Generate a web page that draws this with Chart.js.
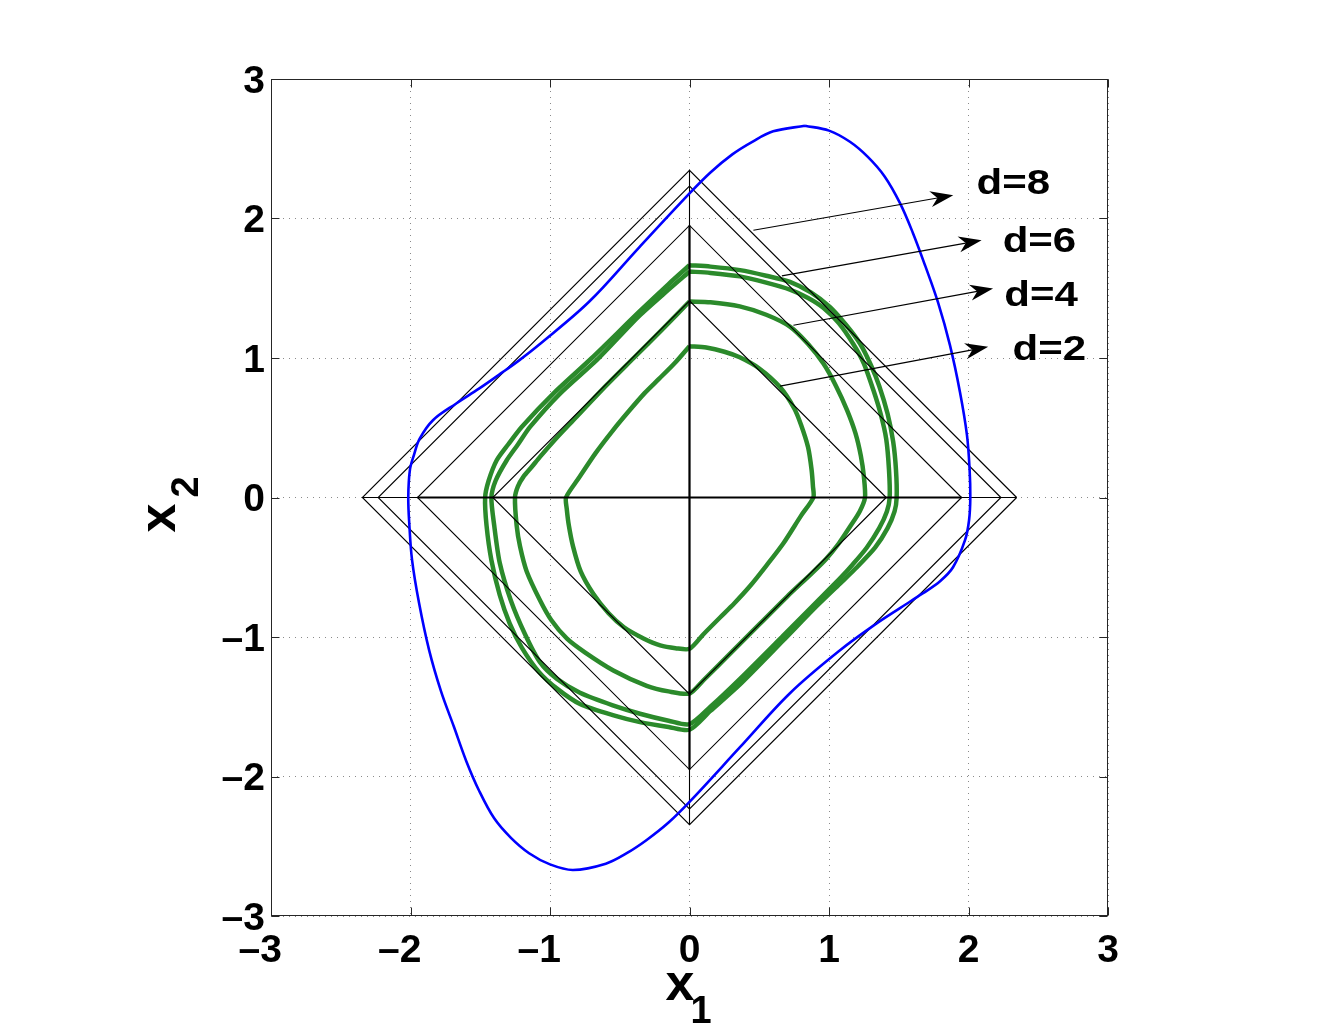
<!DOCTYPE html>
<html lang="en">
<head>
  <meta charset="UTF-8" />
  <title>Phase plane x1 - x2</title>
  <script src="https://cdn.jsdelivr.net/npm/chart.js"></script>
  <style>
    * { margin: 0; padding: 0; box-sizing: border-box; }
    body { background: #fff; width: 1334px; height: 1036px; overflow: hidden; }
    canvas { display: block; }
  </style>
</head>
<body>
  <canvas id="phaseChart" width="1334" height="1036"></canvas>

  <script>
    // axis ticks
    const tickValues = [-3, -2, -1, 0, 1, 2, 3];
    const tickLabels = ['\u20133', '\u20132', '\u20131', '0', '1', '2', '3'];

    // blue closed trajectory
    const blueCycle = [
      [0.828, 2.665], [1.0, 2.63], [1.15, 2.55], [1.28, 2.44], [1.4, 2.3], [1.509, 2.11], [1.6, 1.9],
      [1.69, 1.66], [1.781, 1.4], [1.867, 1.092], [1.939, 0.755], [1.989, 0.447], [2.008, 0.2],
      [2.013, 0], [2.004, -0.163], [1.975, -0.306], [1.889, -0.5], [1.796, -0.6], [1.674, -0.686],
      [1.509, -0.793], [1.344, -0.901], [1.079, -1.095], [0.72, -1.403], [0.362, -1.79], [0, -2.182],
      [-0.15, -2.33], [-0.307, -2.455], [-0.45, -2.55], [-0.6, -2.625], [-0.835, -2.67],
      [-1.0, -2.63], [-1.15, -2.55], [-1.28, -2.44], [-1.4, -2.3], [-1.509, -2.1], [-1.6, -1.89],
      [-1.69, -1.64], [-1.781, -1.39], [-1.867, -1.092], [-1.939, -0.755], [-1.989, -0.447],
      [-2.008, -0.2], [-2.016, 0], [-2.004, 0.2], [-1.975, 0.306], [-1.935, 0.42], [-1.839, 0.554],
      [-1.672, 0.674], [-1.509, 0.78], [-1.344, 0.895], [-1.219, 0.985], [-1.079, 1.095],
      [-0.72, 1.403], [-0.362, 1.792], [0, 2.18], [0.15, 2.33], [0.307, 2.46], [0.45, 2.55],
      [0.6, 2.625], [0.828, 2.665]
    ];

    // green closed curves, inner to outer
    const greenCurve1 = [
      [0, 1.085], [0.12, 1.075], [0.25, 1.045], [0.36, 1.005], [0.5, 0.925], [0.65, 0.79],
      [0.75, 0.64], [0.8, 0.52], [0.85, 0.36], [0.875, 0.2], [0.885, 0.08], [0.888, 0],
      [0.8, -0.13], [0.672, -0.33], [0.55, -0.49], [0.434, -0.635], [0.32, -0.76], [0.219, -0.86],
      [0.1, -0.98], [0, -1.085],
      [-0.1, -1.08], [-0.21, -1.06], [-0.33, -1.01], [-0.47, -0.93], [-0.58, -0.83], [-0.69, -0.69],
      [-0.78, -0.53], [-0.835, -0.35], [-0.865, -0.2], [-0.88, -0.08], [-0.885, 0],
      [-0.8, 0.13], [-0.672, 0.32], [-0.55, 0.48], [-0.434, 0.62], [-0.32, 0.75], [-0.219, 0.85],
      [-0.1, 0.97], [0, 1.085]
    ];
    const greenCurve2 = [
      [0, 1.405], [0.15, 1.4], [0.36, 1.37], [0.55, 1.31], [0.72, 1.225], [0.85, 1.1], [0.96, 0.96],
      [1.05, 0.8], [1.13, 0.625], [1.19, 0.46], [1.228, 0.3], [1.25, 0.15], [1.258, 0],
      [1.22, -0.1], [1.15, -0.21], [1.07, -0.33], [0.98, -0.44], [0.88, -0.54], [0.7, -0.71],
      [0.5, -0.91], [0.3, -1.11], [0.1, -1.31], [0, -1.405],
      [-0.15, -1.39], [-0.307, -1.35], [-0.546, -1.24], [-0.75, -1.11], [-0.88, -1.01], [-0.99, -0.88],
      [-1.07, -0.74], [-1.167, -0.53], [-1.215, -0.35], [-1.239, -0.2], [-1.251, 0],
      [-1.23, 0.08], [-1.191, 0.148], [-1.13, 0.22], [-1.072, 0.291], [-0.95, 0.43], [-0.833, 0.554],
      [-0.6, 0.8], [-0.4, 1.0], [-0.2, 1.2], [0, 1.405]
    ];
    const greenCurve3 = [
      [0, 1.62], [0.15, 1.61], [0.362, 1.585], [0.55, 1.54], [0.72, 1.49], [0.85, 1.43], [0.959, 1.36],
      [1.07, 1.25], [1.174, 1.1], [1.25, 0.96], [1.318, 0.77], [1.37, 0.6], [1.41, 0.42], [1.43, 0.2],
      [1.435, 0],
      [1.415, -0.1], [1.36, -0.22], [1.27, -0.36], [1.17, -0.48], [1.079, -0.58], [0.9, -0.76],
      [0.672, -0.99], [0.362, -1.3], [0.15, -1.5], [0, -1.625],
      [-0.15, -1.6], [-0.355, -1.55], [-0.55, -1.49], [-0.785, -1.4], [-0.95, -1.3], [-1.072, -1.18],
      [-1.179, -0.98], [-1.28, -0.74], [-1.36, -0.47], [-1.4, -0.2], [-1.42, 0],
      [-1.39, 0.12], [-1.31, 0.267], [-1.23, 0.38], [-1.143, 0.506], [-0.928, 0.745], [-0.66, 0.99],
      [-0.362, 1.3], [-0.15, 1.49], [0, 1.62]
    ];
    const greenCurve4 = [
      [0, 1.665], [0.15, 1.655], [0.362, 1.63], [0.55, 1.59], [0.72, 1.546], [0.87, 1.47], [1.006, 1.366],
      [1.12, 1.24], [1.222, 1.104], [1.3, 0.95], [1.36, 0.8], [1.42, 0.6], [1.46, 0.4], [1.48, 0.2],
      [1.485, 0],
      [1.47, -0.1], [1.42, -0.22], [1.33, -0.36], [1.2, -0.5], [1.079, -0.617], [0.9, -0.79],
      [0.672, -1.025], [0.362, -1.34], [0.15, -1.53], [0, -1.665],
      [-0.15, -1.645], [-0.355, -1.61], [-0.55, -1.56], [-0.785, -1.48], [-0.95, -1.37], [-1.08, -1.25],
      [-1.2, -1.08], [-1.29, -0.9], [-1.36, -0.7], [-1.42, -0.45], [-1.455, -0.2], [-1.465, 0],
      [-1.44, 0.12], [-1.382, 0.267], [-1.3, 0.38], [-1.203, 0.506], [-0.976, 0.745], [-0.7, 1.0],
      [-0.362, 1.33], [-0.15, 1.53], [0, 1.665]
    ];

    // black diamonds |x1| + |x2| = r
    const diamond1 = [[2.345, 0], [0, 2.345], [-2.345, 0], [0, -2.345], [2.345, 0]];
    const diamond2 = [[2.232, 0], [0, 2.232], [-2.232, 0], [0, -2.232], [2.232, 0]];
    const diamond3 = [[1.95, 0], [0, 1.95], [-1.95, 0], [0, -1.95], [1.95, 0]];
    const diamond4 = [[1.41, 0], [0, 1.41], [-1.41, 0], [0, -1.41], [1.41, 0]];

    // cross through the origin
    const crossThinH = [[-2.345, 0], [2.345, 0]];
    const crossThinV = [[0, -2.345], [0, 2.345]];
    const crossThickH = [[-1.95, 0], [1.95, 0]];
    const crossThickV = [[0, -1.95], [0, 1.95]];

    // annotations
    const arrowText = ['d=8', 'd=6', 'd=4', 'd=2'];
    const arrowFrom = [[0.458, 1.916], [0.662, 1.589], [0.745, 1.235], [0.649, 0.798]];
    const arrowTo = [[1.891, 2.167], [2.094, 1.844], [2.176, 1.498], [2.141, 1.08]];
    const textAt = [[2.058, 2.246], [2.245, 1.832], [2.257, 1.443], [2.316, 1.056]];

    const toXY = pts => pts.map(p => ({ x: p[0], y: p[1] }));

    function line(pts, color, width, order, tension) {
      return {
        data: toXY(pts), showLine: true, pointRadius: 0, borderColor: color,
        borderWidth: width, fill: false, order: order, tension: tension || 0
      };
    }

    const green = '#2b8a2b';
    const datasets = [
      line(blueCycle, '#0000ff', 2.6, 0, 0.35),
      line(diamond1, '#000', 1.1, 1),
      line(diamond2, '#000', 1.1, 1),
      line(diamond3, '#000', 1.1, 1),
      line(diamond4, '#000', 1.1, 1),
      line(crossThinH, '#000', 1.1, 1),
      line(crossThinV, '#000', 1.1, 1),
      line(crossThickH, '#000', 2.2, 1),
      line(crossThickV, '#000', 2.2, 1),
      line(greenCurve1, green, 4.5, 2, 0.25),
      line(greenCurve2, green, 4.5, 2, 0.25),
      line(greenCurve3, green, 4.5, 2, 0.25),
      line(greenCurve4, green, 4.5, 2, 0.25)
    ];

    const overlay = {
      id: 'overlay',
      afterDraw(chart) {
        const { ctx, chartArea: a, scales: { x, y } } = chart;
        ctx.save();

        // box and inward tick marks
        ctx.strokeStyle = '#262626';
        ctx.lineWidth = 1;
        const L = Math.round(a.left) + 0.5, R = Math.round(a.right) - 0.5;
        const T = Math.round(a.top) + 0.5, B = Math.round(a.bottom) - 0.5;
        ctx.strokeRect(L, T, R - L, B - T);
        ctx.beginPath();
        tickValues.forEach(v => {
          const px = Math.round(x.getPixelForValue(v)) + 0.5;
          const py = Math.round(y.getPixelForValue(v)) + 0.5;
          ctx.moveTo(px, B); ctx.lineTo(px, B - 8);
          ctx.moveTo(px, T); ctx.lineTo(px, T + 8);
          ctx.moveTo(L, py); ctx.lineTo(L + 8, py);
          ctx.moveTo(R, py); ctx.lineTo(R - 8, py);
        });
        ctx.stroke();

        // x tick labels: digit centred on the tick, minus hanging left
        ctx.fillStyle = '#000';
        ctx.font = 'bold 39px "Liberation Sans", Arial, sans-serif';
        ctx.textBaseline = 'alphabetic';
        tickLabels.forEach((t, i) => {
          const px = x.getPixelForValue(tickValues[i]);
          const digit = t.replace('\u2013', '');
          ctx.textAlign = 'center';
          ctx.fillText(digit, px, a.bottom + 46);
          if (digit !== t) {
            ctx.textAlign = 'right';
            ctx.fillText('\u2013', px - ctx.measureText(digit).width / 2, a.bottom + 46);
          }
        });

        // axis titles
        const cx = x.getPixelForValue(0), cy = y.getPixelForValue(0);
        ctx.textAlign = 'left';
        ctx.font = 'bold 52px "Liberation Sans", Arial, sans-serif';
        ctx.fillText('x', cx - 24, a.bottom + 84);
        ctx.font = 'bold 38px "Liberation Sans", Arial, sans-serif';
        ctx.fillText('1', cx + 1, a.bottom + 107);

        ctx.save();
        ctx.translate(a.left - 96, cy + 35);
        ctx.rotate(-Math.PI / 2);
        ctx.font = 'bold 52px "Liberation Sans", Arial, sans-serif';
        ctx.fillText('x', 0, 0);
        ctx.font = 'bold 38px "Liberation Sans", Arial, sans-serif';
        ctx.fillText('2', 35, 23);
        ctx.restore();

        // arrows with labels
        ctx.strokeStyle = '#000';
        ctx.lineWidth = 1.2;
        arrowText.forEach((t, i) => {
          const x0 = x.getPixelForValue(arrowFrom[i][0]), y0 = y.getPixelForValue(arrowFrom[i][1]);
          const x1 = x.getPixelForValue(arrowTo[i][0]), y1 = y.getPixelForValue(arrowTo[i][1]);
          const ang = Math.atan2(y1 - y0, x1 - x0);
          const len = 23, half = 8;
          const bx = x1 - len * Math.cos(ang), by = y1 - len * Math.sin(ang);
          const nx = -Math.sin(ang), ny = Math.cos(ang);
          const mx = x1 - len * 0.7 * Math.cos(ang), my = y1 - len * 0.7 * Math.sin(ang);
          ctx.beginPath();
          ctx.moveTo(x0, y0);
          ctx.lineTo(mx, my);
          ctx.stroke();
          ctx.beginPath();
          ctx.moveTo(x1, y1);
          ctx.lineTo(bx + nx * half, by + ny * half);
          ctx.lineTo(mx, my);
          ctx.lineTo(bx - nx * half, by - ny * half);
          ctx.closePath();
          ctx.fill();

          // label text, a little wider than the plain font like the original
          ctx.save();
          ctx.translate(x.getPixelForValue(textAt[i][0]), y.getPixelForValue(textAt[i][1]));
          ctx.scale(1.2, 1);
          ctx.font = 'bold 35px "Liberation Sans", Arial, sans-serif';
          ctx.textAlign = 'left';
          ctx.textBaseline = 'middle';
          ctx.fillText(t, 0, 0);
          ctx.restore();
        });

        ctx.restore();
      }
    };

    const gridOpts = { color: '#8a8a8a', lineWidth: 1, drawTicks: false };

    new Chart(document.getElementById('phaseChart'), {
      type: 'scatter',
      data: { datasets: datasets },
      options: {
        responsive: false,
        animation: false,
        events: [],
        layout: { padding: { top: 79, right: 226, left: 0, bottom: 0 } },
        plugins: { legend: { display: false }, tooltip: { enabled: false } },
        scales: {
          x: {
            type: 'linear', min: -3, max: 3,
            grid: gridOpts,
            border: { display: false, dash: [1, 5] },
            ticks: { display: false, stepSize: 1 },
            afterFit: s => { s.height = 120; }
          },
          y: {
            type: 'linear', min: -3, max: 3,
            grid: gridOpts,
            border: { display: false, dash: [1, 5] },
            ticks: {
              stepSize: 1, padding: 6, labelOffset: 3, color: '#000',
              font: { family: '"Liberation Sans", Arial, sans-serif', size: 39, weight: 'bold' },
              callback: v => tickLabels[tickValues.indexOf(v)]
            },
            afterFit: s => { s.width = 271; }
          }
        }
      },
      plugins: [overlay]
    });
  </script>
</body>
</html>
